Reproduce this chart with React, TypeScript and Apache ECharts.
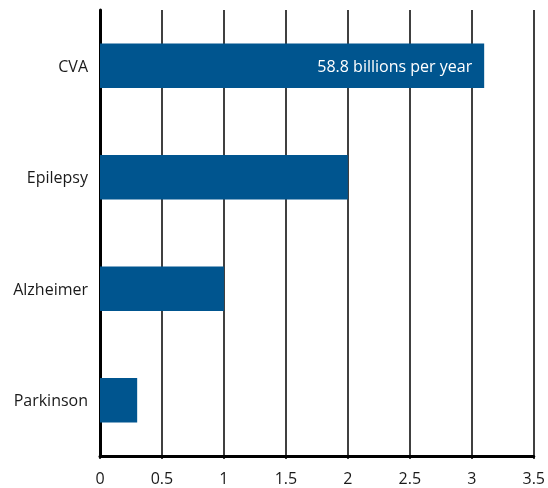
import React, { useEffect, useRef } from "react";
import * as echarts from "echarts";

const categories = ["CVA", "Epilepsy", "Alzheimer", "Parkinson"];
const costs = [3.1, 2.0, 1.0, 0.3];
const barNotes = ["58.8 billions per year", "", "", ""];

const FONT = "'Open Sans', 'Noto Sans', sans-serif";

export default function App() {
  const ref = useRef<HTMLDivElement>(null);

  useEffect(() => {
    if (!ref.current) return;
    const chart = echarts.init(ref.current, null, { renderer: "svg" });
    chart.setOption({
      animation: false,
      grid: { left: 100, right: 12, top: 10, bottom: 32, containLabel: false },
      xAxis: {
        type: "value",
        min: 0,
        max: 3.5,
        interval: 0.5,
        axisLine: { show: true, lineStyle: { color: "#000", width: 3 } },
        axisTick: { show: true, length: 3, lineStyle: { color: "#000", width: 1.5 } },
        axisLabel: {
          color: "#1a1a1a",
          fontSize: 16,
          lineHeight: 16,
          fontFamily: FONT,
          margin: 14,
        },
        splitLine: { show: true, lineStyle: { color: "#000", width: 1.5 } },
      },
      yAxis: {
        type: "category",
        data: categories,
        inverse: true,
        axisLine: { show: true, lineStyle: { color: "#000", width: 3 } },
        axisTick: { show: false },
        axisLabel: { color: "#1a1a1a", fontSize: 16, fontFamily: FONT, margin: 12 },
        splitLine: { show: false },
      },
      series: [
        {
          type: "bar",
          data: costs.map((v, i) => ({
            value: v,
            label: {
              show: barNotes[i] !== "",
              formatter: barNotes[i],
            },
          })),
          barCategoryGap: "60%",
          itemStyle: { color: "#00558f" },
          label: {
            position: "insideRight",
            distance: 12,
            color: "#ffffff",
            fontSize: 16,
            fontFamily: FONT,
          },
        },
      ],
    });
    return () => chart.dispose();
  }, []);

  return (
    <div
      ref={ref}
      style={{ position: "fixed", left: 0, top: 0, width: 548, height: 488, overflow: "hidden" }}
    />
  );
}
